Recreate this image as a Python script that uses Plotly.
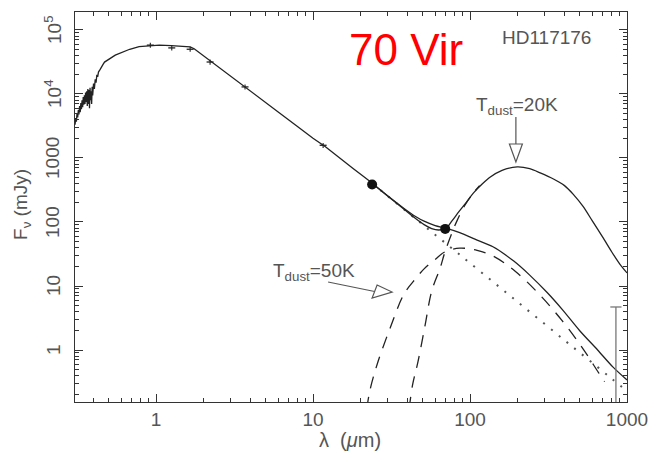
import numpy as np
import plotly.graph_objects as go

# ---------------- data ----------------
# stellar model spectrum (solid), wavelength in micron, flux in mJy
star_lam = [0.305, 0.308, 0.311, 0.314, 0.317, 0.32, 0.323, 0.326, 0.329, 0.332,
            0.335, 0.338, 0.341, 0.344, 0.347, 0.35, 0.353, 0.356, 0.359, 0.362,
            0.365, 0.368, 0.371, 0.374, 0.377, 0.38, 0.383, 0.386, 0.389, 0.392,
            0.395, 0.40, 0.405, 0.41, 0.415, 0.42, 0.425, 0.43, 0.44, 0.45,
            0.46, 0.47, 0.49, 0.52, 0.55, 0.60, 0.68, 0.78, 0.90, 1.05,
            1.25, 1.45, 1.65, 1.75, 2.0, 2.3, 2.8, 3.5, 4.5, 6,
            8, 10, 12, 15, 18, 21, 24]
star_flux = [3300, 4200, 3700, 5000, 4300, 5600, 4800, 6500, 5200, 7200,
             5800, 8000, 6200, 9000, 6800, 9500, 7000, 10500, 7500, 11000,
             6500, 12000, 7000, 11500, 6000, 12500, 8000, 11000, 7000, 13000,
             9500, 14500, 12000, 17000, 15000, 20000, 18500, 22000, 24000, 27000,
             29000, 31500, 34000, 37000, 40500, 44500, 50000, 55000, 57000, 58000,
             57000, 56000, 54500, 51000, 40000, 31000, 21500, 14200, 8900, 5250,
             3080, 2030, 1500, 962, 686, 515, 400]

# photosphere (dotted)
phot_lam = [24, 30, 40, 50, 60, 70, 85, 100, 130, 170, 220, 300, 400, 500, 650, 800, 1000]
phot_flux = [395, 253, 142, 91, 63, 46.5, 31.5, 22.8, 13.5, 7.9, 4.7, 2.53, 1.42, 0.91, 0.54, 0.355, 0.228]

# photosphere + 50 K dust (solid)
tot50_lam = [24, 30, 38, 45, 51, 60, 70, 86, 111, 140, 190, 240, 310, 390, 500, 650, 815, 1000]
tot50_flux = [396, 255, 163, 122, 103, 88, 80, 68, 52, 41, 24.5, 14.8, 7.9, 4.2, 2.0, 1.0, 0.54, 0.34]

# photosphere + 20 K dust (solid)
tot20_lam = [24, 30, 38, 45, 51, 57, 63, 70, 77, 85, 95, 105, 120, 134, 160, 200,
             240, 280, 340, 400, 455, 525, 600, 700, 800, 900, 1000]
tot20_flux = [395, 253, 158, 113, 91, 79, 75, 79, 105, 145, 205, 283, 395, 500, 640, 725,
              680, 585, 470, 370, 270, 175, 105, 58, 34, 22, 16]

# 50 K dust (dashed)
d50_lam = [22, 23.1, 25.9, 31, 38, 45, 51, 60, 69, 86, 111, 140, 194, 275, 385, 517, 660, 720]
d50_flux = [0.12, 0.24, 0.65, 2.2, 7.5, 13, 18.5, 26, 34, 39, 36, 29.5, 17, 7.5, 2.9, 1.1, 0.44, 0.32]

# 20 K dust (dashed, merging into the 20 K total)
d20_lam = [41, 43, 46.6, 51.7, 57, 64.5, 69, 77, 83, 93, 105, 115]
d20_flux = [0.12, 0.28, 0.65, 2.4, 8.3, 19, 33, 69, 107, 185, 283, 370]

# photometry with small error bars
phot_pts_lam = [0.92, 1.26, 1.65, 2.21, 3.69, 11.6]
phot_pts_flux = [58000, 52500, 50000, 31600, 12900, 1580]

# MIPS detections (filled dots)
mips_lam = [23.8, 69.5]
mips_flux = [385, 78]

# 850 micron upper limit
lim_lam = [850]
lim_flux = [4.7]

# tick labels
xtick_vals = [1, 10, 100, 1000]
xtick_text = ["1", "10", "100", "1000"]
ytick_vals = [1, 10, 100, 1000, 1e4, 1e5]
ytick_text = ["1", "10", "100", "1000", "10<sup>4</sup>", "10<sup>5</sup>"]

# ---------------- figure ----------------
INK = "#222222"
GRAY = "#555555"
FONT = "Liberation Sans, Arial, sans-serif"

fig = go.Figure()

fig.add_trace(go.Scatter(x=star_lam, y=star_flux, mode="lines",
                         line=dict(color=INK, width=1.3), hoverinfo="skip"))
fig.add_trace(go.Scatter(x=phot_lam, y=phot_flux, mode="lines",
                         line=dict(color="#555555", width=2, dash="2px,8px", shape="spline"),
                         hoverinfo="skip"))
fig.add_trace(go.Scatter(x=d50_lam, y=d50_flux, mode="lines",
                         line=dict(color=INK, width=1.3, dash="12px,9px", shape="spline"),
                         hoverinfo="skip"))
fig.add_trace(go.Scatter(x=d20_lam, y=d20_flux, mode="lines",
                         line=dict(color=INK, width=1.3, dash="12px,9px", shape="spline"),
                         hoverinfo="skip"))
fig.add_trace(go.Scatter(x=tot50_lam, y=tot50_flux, mode="lines",
                         line=dict(color=INK, width=1.3, shape="spline", smoothing=0.8),
                         hoverinfo="skip"))
fig.add_trace(go.Scatter(x=tot20_lam, y=tot20_flux, mode="lines",
                         line=dict(color=INK, width=1.3, shape="spline", smoothing=0.8),
                         hoverinfo="skip"))
fig.add_trace(go.Scatter(x=phot_pts_lam, y=phot_pts_flux, mode="markers",
                         marker=dict(symbol="line-ew", size=5, line=dict(color=INK, width=1.3)),
                         error_y=dict(type="percent", value=9, color=INK, thickness=1.1, width=0),
                         hoverinfo="skip"))
fig.add_trace(go.Scatter(x=mips_lam, y=mips_flux, mode="markers",
                         marker=dict(symbol="circle", size=10, color="#111111"),
                         hoverinfo="skip"))
fig.add_trace(go.Scatter(x=lim_lam, y=lim_flux, mode="markers",
                         marker=dict(symbol="line-ew", size=8, line=dict(color="#777777", width=1.3)),
                         error_y=dict(type="data", symmetric=False, array=[0],
                                      arrayminus=[lim_flux[0] - 0.05], color="#777777",
                                      thickness=1.3, width=0),
                         hoverinfo="skip"))

def minor_vals(lo_exp, hi_exp):
    out = []
    for e in range(lo_exp, hi_exp + 1):
        for m in range(2, 10):
            out.append(m * 10.0 ** e)
    return out

axis_common = dict(
    type="log", showgrid=False, zeroline=False, automargin=False,
    showline=True, linecolor="#333333", linewidth=1.2, mirror="allticks",
    ticks="inside", ticklen=8, tickwidth=1, tickcolor="#333333",
    tickfont=dict(family=FONT, size=19, color=GRAY),
)

fig.update_layout(
    width=650, height=456,
    margin=dict(l=75, r=23, t=12, b=54, autoexpand=False),
    paper_bgcolor="white", plot_bgcolor="white",
    showlegend=False,
    font=dict(family=FONT, color=GRAY),
    xaxis=dict(**axis_common, range=[-0.516, 3.0],
               tickmode="array", tickvals=xtick_vals, ticktext=xtick_text,
               ticklabelstandoff=0,
               minor=dict(ticks="inside", ticklen=4, tickcolor="#333333",
                          tickmode="array", tickvals=minor_vals(-1, 2), showgrid=False)),
    yaxis=dict(**axis_common, range=[-0.8125, 5.281],
               tickmode="array", tickvals=ytick_vals, ticktext=ytick_text,
               showticklabels=False,
               minor=dict(ticks="inside", ticklen=4, tickcolor="#333333",
                          tickmode="array", tickvals=minor_vals(-1, 5), showgrid=False)),
)

# rotated y tick labels (reading bottom to top, as in the reference)
for v, t in zip(ytick_vals, ytick_text):
    fig.add_annotation(x=0, xref="paper", xshift=-22, y=np.log10(v), yref="y",
                       text=t, textangle=-90, showarrow=False,
                       xanchor="center", yanchor="middle",
                       font=dict(family=FONT, size=19, color=GRAY))

# axis titles
fig.add_annotation(x=0, xref="paper", xshift=-53, y=2.266, yref="y",
                   text="F<sub>ν</sub> (mJy)", textangle=-90, showarrow=False,
                   xanchor="center", yanchor="middle",
                   font=dict(family=FONT, size=19, color=GRAY))
fig.add_annotation(x=1.236, xref="x", y=0, yref="paper", yshift=-38,
                   text="λ  (<i>μ</i>m)", showarrow=False,
                   xanchor="center", yanchor="middle",
                   font=dict(family=FONT, size=20, color=GRAY))

# text annotations (annotation coords on log axes are log10 values)
fig.add_annotation(x=np.log10(39), y=4.6875, xref="x", yref="y", text="70 Vir",
                   showarrow=False, font=dict(family=FONT, size=44, color="#ff0000"))
fig.add_annotation(x=2.49, y=4.89, xref="x", yref="y", text="HD117176",
                   showarrow=False, font=dict(family=FONT, size=19, color=GRAY))
fig.add_annotation(x=2.299, y=3.81, xref="x", yref="y", text="T<sub>dust</sub>=20K",
                   showarrow=False, font=dict(family=FONT, size=19, color=GRAY))
fig.add_annotation(x=1.006, y=1.22, xref="x", yref="y", text="T<sub>dust</sub>=50K",
                   showarrow=False, font=dict(family=FONT, size=19, color=GRAY))

# open-headed arrows, drawn in pixel units anchored at their tips
fig.add_shape(type="path", xref="x", yref="y", xsizemode="pixel", ysizemode="pixel",
              xanchor=196, yanchor=866,
              path="M 0 45 L 0 18 M -6.5 18 L 0 0 L 6.5 18 Z",
              line=dict(color=GRAY, width=1.2), fillcolor="rgba(0,0,0,0)")
fig.add_shape(type="path", xref="x", yref="y", xsizemode="pixel", ysizemode="pixel",
              xanchor=31.9, yanchor=8.05,
              path="M -64 10 L -17.5 0.5 M -15 7 L 0 0 L -20 -6 Z",
              line=dict(color=GRAY, width=1.2), fillcolor="rgba(0,0,0,0)")

fig.write_html("out.html",
               config={"displayModeBar": False, "staticPlot": True},
               post_script="document.body.style.margin='0px';"
                           "document.documentElement.style.overflow='hidden';")
